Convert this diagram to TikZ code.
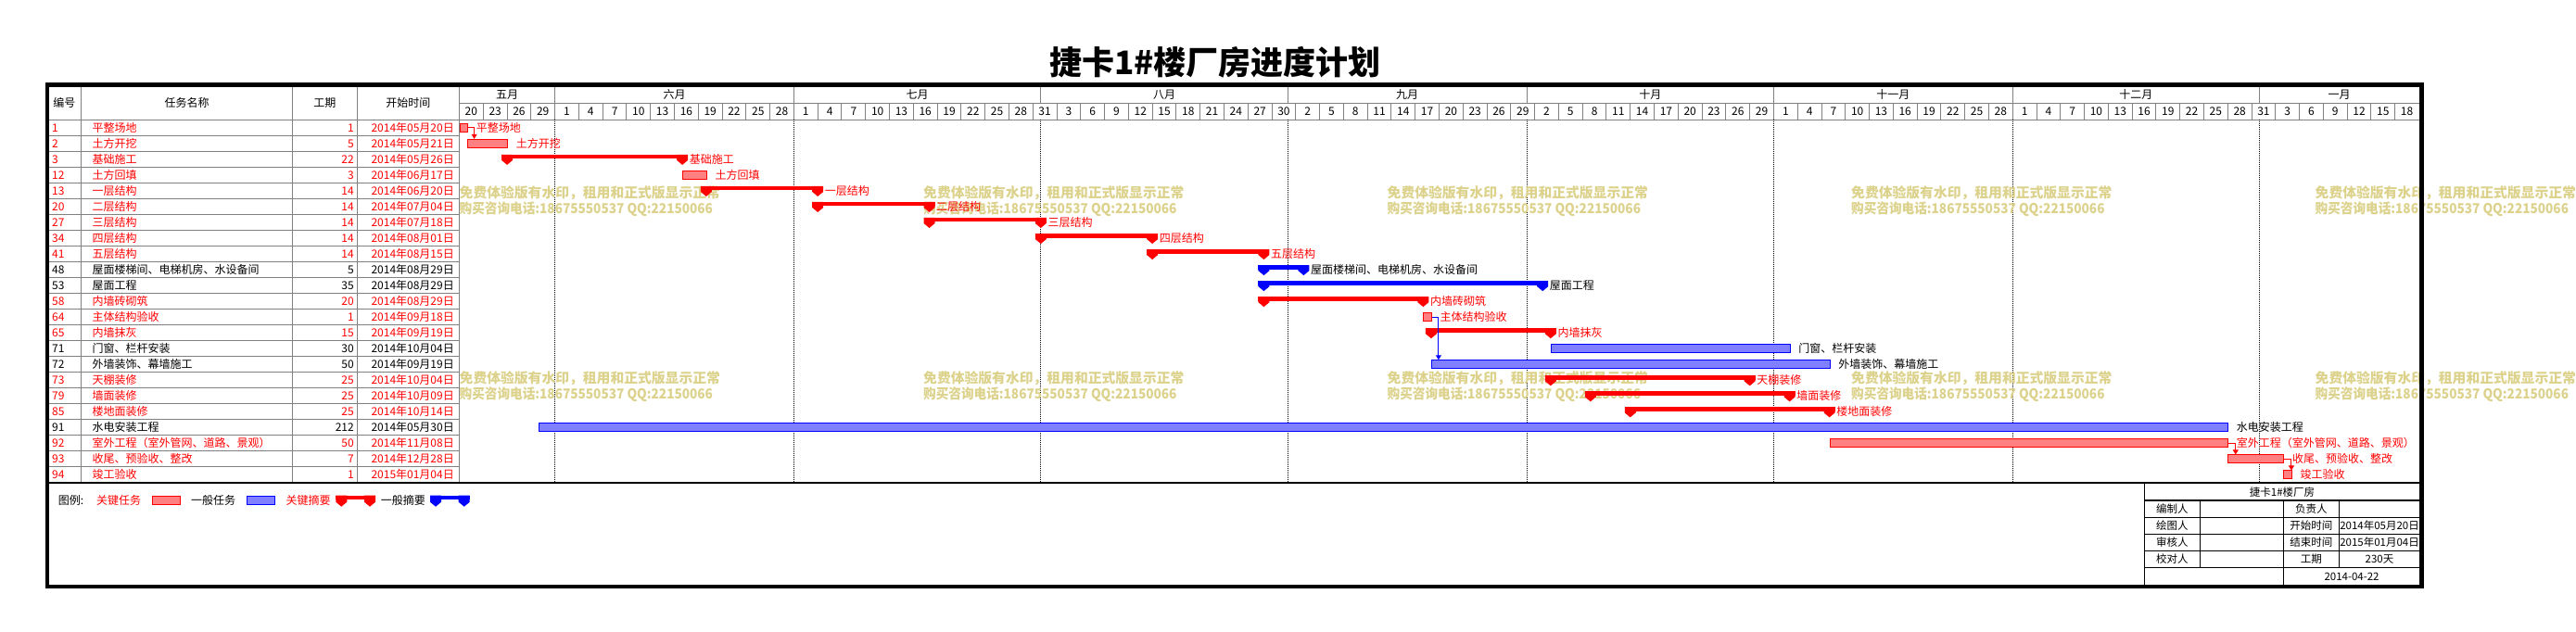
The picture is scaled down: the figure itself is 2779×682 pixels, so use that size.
\documentclass[tikz,border=0pt]{standalone}
\usepackage{fontspec}
\setmainfont{Noto Sans CJK SC}
\usetikzlibrary{arrows.meta}
\definecolor{wmc}{RGB}{220,210,140}
\definecolor{gridg}{RGB}{128,128,128}
\definecolor{tfR}{RGB}{255,128,128}
\definecolor{tfB}{RGB}{128,128,255}
\newcommand\GTask[5]{%
  \pgfmathsetmacro\gyc{129.3+17.03*(#1+0.5)}%
  \pgfmathsetmacro\gxa{495.5+#2*8.5935}%
  \pgfmathsetmacro\gw{#3*8.5935}%
  \node[task#4, anchor=west, minimum width=\gw pt, minimum height=9pt] (T#1) at (\gxa,\gyc) {};
  \node[lab#4, anchor=west] (L#1) at ([xshift=8.5pt]T#1.east) {#5};
}
\newcommand\GSum[5]{%
  \pgfmathsetmacro\gyc{129.3+17.03*(#1+0.5)}%
  \pgfmathsetmacro\gxa{495.5+#2*8.5935}%
  \pgfmathsetmacro\gxb{495.5+(#2+#3)*8.5935}%
  \fill[bar#4] (\gxa-6,\gyc-5) rectangle (\gxb+6,\gyc-0.5);
  \fill[bar#4] (\gxa-6,\gyc-5) -- (\gxa+6,\gyc-5) -- (\gxa+6,\gyc+1) -- (\gxa,\gyc+6) -- (\gxa-6,\gyc+1) -- cycle;
  \fill[bar#4] (\gxb-6,\gyc-5) -- (\gxb+6,\gyc-5) -- (\gxb+6,\gyc+1) -- (\gxb,\gyc+6) -- (\gxb-6,\gyc+1) -- cycle;
  \coordinate (S#1) at (\gxb,\gyc);
  \node[lab#4, anchor=west] (L#1) at (\gxb+7.5,\gyc) {#5};
}
\begin{document}
\begin{tikzpicture}[x=1pt,y=-1pt,
  every node/.style={inner sep=0pt, font=\fontsize{12}{14}\selectfont},
  tx/.style={text height=9.5pt, text depth=0.5pt},
  grid/.style={draw=gridg, line width=1pt},
  blk/.style={draw=black, line width=1.3pt},
  taskR/.style={draw=red, line width=1pt, fill=tfR, rectangle},
  taskB/.style={draw=blue, line width=1pt, fill=tfB, rectangle},
  barR/.style={fill=red},
  barB/.style={fill=blue},
  labR/.style={tx, text=red},
  labB/.style={tx, text=black},
  conR/.style={draw=red, line width=1pt, -{Triangle[length=5pt,width=6pt]}},
  conB/.style={draw=blue, line width=1pt, -{Triangle[length=5pt,width=6pt]}},
  wm/.style={text=wmc, font=\fontsize{14.8}{17}\selectfont\bfseries, tx},
  ibx/.style={tx, font=\fontsize{11.5}{13}\selectfont},
  mdot/.style={draw=black, line width=1pt, dash pattern=on 1pt off 1pt}]
\useasboundingbox (0,0) rectangle (2779,682);
\fill[white] (0,0) rectangle (2779,682);
% title
\node[font=\fontsize{35}{40}\selectfont\bfseries] (title) at (1311,67.5) {捷卡1\#楼厂房进度计划};
% table header
\node[tx] (h1) at (69.4,111.5) {编号};
\node[tx] (h2) at (201.5,111.5) {任务名称};
\node[tx] (h3) at (350.3,111.5) {工期};
\node[tx] (h4) at (440.4,111.5) {开始时间};
\foreach \x in {87.7,315.3,385.3,495.5} \draw[grid] (\x,93.5) -- (\x,521);
\foreach \k in {1,...,22} \draw[grid] (51,{129.3+17.03*\k}) -- (495.5,{129.3+17.03*\k});
% timeline header
\draw[grid] (495.5,111.5) -- (2609.5,111.5);
\draw[grid] (51,129.3) -- (2609.5,129.3);
\foreach \lab [count=\k from 0] in {20,23,26,29,1,4,7,10,13,16,19,22,25,28,1,4,7,10,13,16,19,22,25,28,31,3,6,9,12,15,18,21,24,27,30,2,5,8,11,14,17,20,23,26,29,2,5,8,11,14,17,20,23,26,29,1,4,7,10,13,16,19,22,25,28,1,4,7,10,13,16,19,22,25,28,31,3,6,9,12,15,18} {
  \pgfmathsetmacro\xl{495.5+3*\k*8.5935}
  \draw[grid] (\xl,111.5) -- (\xl,129.3);
  \node[tx] (d\k) at (\xl+12.89,120.4) {\lab};
}
\foreach \a/\b/\m [count=\k] in {0/12/五月,12/42/六月,42/73/七月,73/104/八月,104/134/九月,134/165/十月,165/195/十一月,195/226/十二月,226/246/一月} {
  \draw[grid] ({495.5+\a*8.5935},93.5) -- ({495.5+\a*8.5935},111.5);
  \node[tx] (m\k) at ({495.5+(\a+\b)/2*8.5935},102.5) {\m};
}
\foreach \a in {12,42,73,104,134,165,195,226} \draw[mdot] ({495.5+\a*8.5935},129.3) -- ({495.5+\a*8.5935},521);
% table rows
\foreach \i/\id/\nm/\du/\dt/\cl in {
 0/1/平整场地/1/2014年05月20日/red,
 1/2/土方开挖/5/2014年05月21日/red,
 2/3/基础施工/22/2014年05月26日/red,
 3/12/土方回填/3/2014年06月17日/red,
 4/13/一层结构/14/2014年06月20日/red,
 5/20/二层结构/14/2014年07月04日/red,
 6/27/三层结构/14/2014年07月18日/red,
 7/34/四层结构/14/2014年08月01日/red,
 8/41/五层结构/14/2014年08月15日/red,
 9/48/屋面楼梯间、电梯机房、水设备间/5/2014年08月29日/black,
 10/53/屋面工程/35/2014年08月29日/black,
 11/58/内墙砖砌筑/20/2014年08月29日/red,
 12/64/主体结构验收/1/2014年09月18日/red,
 13/65/内墙抹灰/15/2014年09月19日/red,
 14/71/门窗、栏杆安装/30/2014年10月04日/black,
 15/72/外墙装饰、幕墙施工/50/2014年09月19日/black,
 16/73/天棚装修/25/2014年10月04日/red,
 17/79/墙面装修/25/2014年10月09日/red,
 18/85/楼地面装修/25/2014年10月14日/red,
 19/91/水电安装工程/212/2014年05月30日/black,
 20/92/室外工程（室外管网、道路、景观）/50/2014年11月08日/red,
 21/93/收尾、预验收、整改/7/2014年12月28日/red,
 22/94/竣工验收/1/2015年01月04日/red} {
  \pgfmathsetmacro\yc{129.3+17.03*(\i+0.5)}
  \node[tx, anchor=west, text=\cl] (id\i) at (56,\yc) {\id};
  \node[tx, anchor=west, text=\cl] (nm\i) at (99.5,\yc) {\nm};
  \node[tx, anchor=east, text=\cl] (du\i) at (382,\yc) {\du};
  \node[tx, anchor=east, text=\cl] (dt\i) at (490,\yc) {\dt};
}
% watermarks
\foreach \x [count=\k] in {495.5,996,1496.5,1997,2497.5} {
  \foreach \yy [count=\j] in {209,409} {
    \node[wm, anchor=west] (wa\k\j) at (\x,\yy) {免费体验版有水印，租用和正式版显示正常};
    \node[wm, anchor=west] (wb\k\j) at (\x,\yy+16.7) {\scalebox{0.92}[1]{购买咨询电话:18675550537 QQ:22150066}};
  }
}
% gantt bars
\GTask{0}{0}{1}{R}{平整场地}
\GTask{1}{1}{5}{R}{土方开挖}
\GSum{2}{6}{22}{R}{基础施工}
\GTask{3}{28}{3}{R}{土方回填}
\GSum{4}{31}{14}{R}{一层结构}
\GSum{5}{45}{14}{R}{二层结构}
\GSum{6}{59}{14}{R}{三层结构}
\GSum{7}{73}{14}{R}{四层结构}
\GSum{8}{87}{14}{R}{五层结构}
\GSum{9}{101}{5}{B}{屋面楼梯间、电梯机房、水设备间}
\GSum{10}{101}{35}{B}{屋面工程}
\GSum{11}{101}{20}{R}{内墙砖砌筑}
\GTask{12}{121}{1}{R}{主体结构验收}
\GSum{13}{122}{15}{R}{内墙抹灰}
\GTask{14}{137}{30}{B}{门窗、栏杆安装}
\GTask{15}{122}{50}{B}{外墙装饰、幕墙施工}
\GSum{16}{137}{25}{R}{天棚装修}
\GSum{17}{142}{25}{R}{墙面装修}
\GSum{18}{147}{25}{R}{楼地面装修}
\GTask{19}{10}{212}{B}{水电安装工程}
\GTask{20}{172}{50}{R}{室外工程（室外管网、道路、景观）}
\GTask{21}{222}{7}{R}{收尾、预验收、整改}
\GTask{22}{229}{1}{R}{竣工验收}
% connectors
\path (T0.east) ++(6.5,0) coordinate (k0);
\draw[conR] (T0.east) -| (k0 |- T1.north);
\path (T12.east) ++(7,0) coordinate (k12);
\draw[conB] (T12.east) -| (k12 |- T15.north);
\path (T20.east) ++(7.5,0) coordinate (k20);
\draw[conR] (T20.east) -| (k20 |- T21.north);
\path (T21.east) ++(7.5,0) coordinate (k21);
\draw[conR] (T21.east) -| (k21 |- T22.north);
% bottom line of table
\draw[line width=1.5pt] (51,521) -- (2612.5,521);
% legend
\node[tx, anchor=west] (lg0) at (62.7,540) {图例:};
\node[tx, anchor=west, text=red] (lg1) at (104,540) {关键任务};
\node[taskR, minimum width=30pt, minimum height=9pt] (lgb1) at (179,539.7) {};
\node[tx, anchor=west] (lg2) at (206,540) {一般任务};
\node[taskB, minimum width=30pt, minimum height=9pt] (lgb2) at (281,539.7) {};
\node[tx, anchor=west, text=red] (lg3) at (308.3,540) {关键摘要};
\fill[red] (362.3,534.5) rectangle (405,539.2);
\fill[red] (362.3,534.5) -- (374.3,534.5) -- (374.3,541.7) -- (368.3,546.7) -- (362.3,541.7) -- cycle;
\fill[red] (393,534.5) -- (405,534.5) -- (405,541.7) -- (399,546.7) -- (393,541.7) -- cycle;
\node[tx, anchor=west] (lg4) at (410.7,540) {一般摘要};
\fill[blue] (464,534.5) rectangle (506.7,539.2);
\fill[blue] (464,534.5) -- (476,534.5) -- (476,541.7) -- (470,546.7) -- (464,541.7) -- cycle;
\fill[blue] (494.7,534.5) -- (506.7,534.5) -- (506.7,541.7) -- (500.7,546.7) -- (494.7,541.7) -- cycle;
% info box
\foreach \y in {540,558.3,576.3,594.3,612.3} \draw[blk] (2313.3,\y) -- (2611,\y);
\draw[blk] (2313.3,521) -- (2313.3,633);
\draw[blk] (2463.3,540) -- (2463.3,633);
\draw[blk] (2373.3,540) -- (2373.3,612.3);
\draw[blk] (2523.3,540) -- (2523.3,612.3);
\node[ibx] (ib0) at (2462,530.5) {捷卡1\#楼厂房};
\node[ibx] (ib1) at (2343.3,549.2) {编制人};
\node[ibx] (ib2) at (2493.3,549.2) {负责人};
\node[ibx] (ib3) at (2343.3,567.3) {绘图人};
\node[ibx] (ib4) at (2493.3,567.3) {开始时间};
\node[ibx] (ib5) at (2567,567.3) {2014年05月20日};
\node[ibx] (ib6) at (2343.3,585.3) {审核人};
\node[ibx] (ib7) at (2493.3,585.3) {结束时间};
\node[ibx] (ib8) at (2567,585.3) {2015年01月04日};
\node[ibx] (ib9) at (2343.3,603.3) {校对人};
\node[ibx] (ib10) at (2493.3,603.3) {工期};
\node[ibx] (ib11) at (2567,603.3) {230天};
\node[ibx] (ib12) at (2537,621.5) {2014-04-22};
% frame
\draw[line width=4.5pt] (51,91.5) rectangle (2612.5,633);
\end{tikzpicture}
\end{document}
